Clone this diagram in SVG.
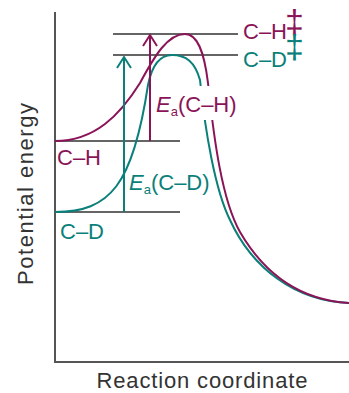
<svg xmlns="http://www.w3.org/2000/svg" width="349" height="393" viewBox="0 0 349 393">
<style>
text{font-family:"Liberation Sans",Arial,sans-serif;}
.ax{stroke:#555;stroke-width:2;fill:none}
.lvl{stroke:#333;stroke-width:1.5;fill:none}
.ch{stroke:#8a1457;stroke-width:2;fill:none}
.cd{stroke:#0b7f7a;stroke-width:2;fill:none}
.tp{fill:#8a1457;font-size:22px}
.tt{fill:#0b7f7a;font-size:22px}
.lab{fill:#333;font-size:22px}
.dag{font-size:34px}
</style>
<rect width="349" height="393" fill="#fff"/>
<g id="axes">
<path class="ax" d="M55,12 V362 H349"/>
<text class="lab" x="202" y="388" text-anchor="middle" textLength="211" lengthAdjust="spacing">Reaction coordinate</text>
<text class="lab" transform="translate(33,194) rotate(-90)" text-anchor="middle" textLength="182" lengthAdjust="spacing">Potential energy</text>
</g>
<g id="levels">
<path class="lvl" d="M113,34 H238 M113,55 H238 M55,141 H180 M55,212 H180"/>
</g>
<g id="connectors">
<path class="cd" d="M55,212 C110,212 133,185 148,85 C152,65 160,55 172,55 C186,55 195,62 200,80 C205,130 215,190 230,220 C252,268 295,301 349,303"/>
<path class="ch" d="M55,141 C95,141 120,115 140,83 C155,55 168,34 185,34 C197,34 204,50 208,83 C214,140 222,200 240,232 C265,275 300,300 349,303"/>
<path class="ch" d="M150,141 V35"/>
<path class="ch" stroke-width="2.5" d="M143,46 L150,35 L157,46"/>
<path class="cd" d="M124,212 V57"/>
<path class="cd" stroke-width="2.5" d="M117,68 L124,57 L131,68"/>
</g>
<g id="label-ea-ch">
<rect x="155" y="86" width="80" height="34" fill="#fff"/>
<text class="tp" x="156" y="112"><tspan font-style="italic">E</tspan><tspan font-size="13" dy="4">a</tspan><tspan dy="-4">(C–H)</tspan></text>
</g>
<g id="label-ea-cd">
<text class="tt" x="129" y="190"><tspan font-style="italic">E</tspan><tspan font-size="13" dy="4">a</tspan><tspan dy="-4">(C–D)</tspan></text>
</g>
<g id="node-ch">
<text class="tp" x="57" y="165">C–H</text>
</g>
<g id="node-cd">
<text class="tt" x="60" y="239">C–D</text>
</g>
<g id="node-ch-ts">
<text class="tp" x="243" y="39">C–H<tspan class="dag" x="285" y="33">‡</tspan></text>
</g>
<g id="node-cd-ts">
<text class="tt" x="243" y="67">C–D<tspan class="dag" x="285" y="58">‡</tspan></text>
</g>
</svg>
